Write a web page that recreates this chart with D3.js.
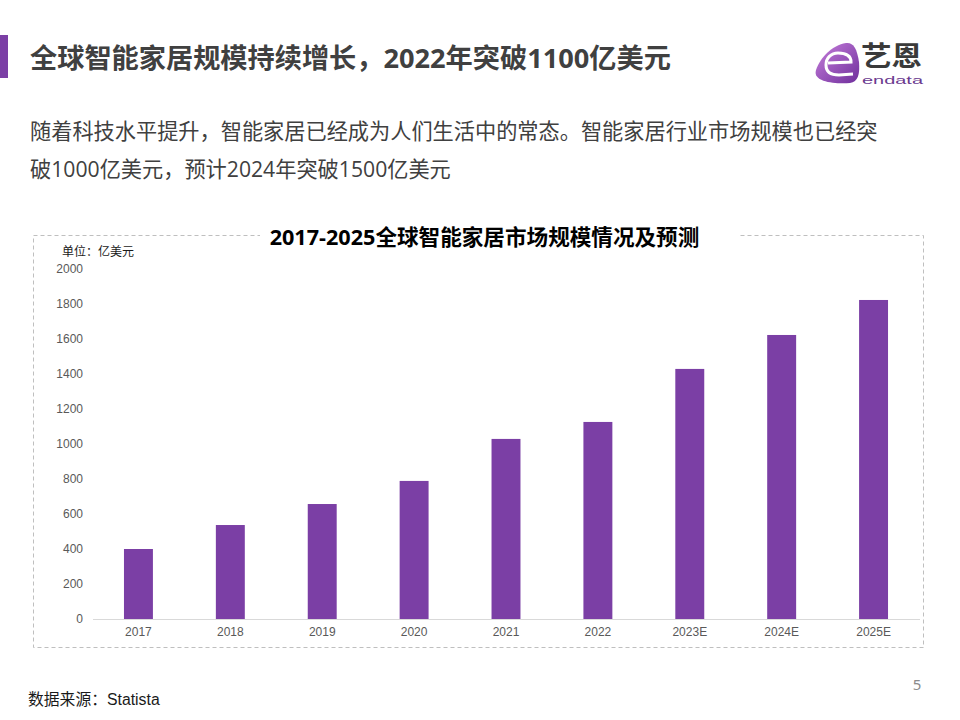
<!DOCTYPE html>
<html><head><meta charset="utf-8">
<script src="https://cdn.jsdelivr.net/npm/d3@7/dist/d3.min.js"></script>
<style>html,body{margin:0;padding:0;background:#fff}svg{display:block}</style>
</head><body><svg id="c" width="960" height="720"></svg>
<script>
const categories=["2017","2018","2019","2020","2021","2022","2023E","2024E","2025E"];
const values=[400,537,657,789,1029,1126,1429,1623,1823];
const yTicks=[0,200,400,600,800,1000,1200,1400,1600,1800,2000];
const headline="全球智能家居规模持续增长，2022年突破1100亿美元";
const bodyLines=["随着科技水平提升，智能家居已经成为人们生活中的常态。智能家居行业市场规模也已经突","破1000亿美元，预计2024年突破1500亿美元"];
const chartTitle="2017-2025全球智能家居市场规模情况及预测";
const unitLabel="单位：亿美元";
const sourceLabel="数据来源：Statista";
const pageNo="5";
const CJK='"Open Sans","Noto Sans CJK SC",sans-serif';
const LAT='"Liberation Sans","Noto Sans CJK SC",sans-serif';
const svg=d3.select("#c");
const text=(x,y,t,size,fill,opt={})=>svg.append("text").attr("x",x).attr("y",y).text(t)
  .attr("font-size",size).attr("fill",fill).attr("font-family",opt.family||CJK)
  .attr("font-weight",opt.weight||"normal").attr("text-anchor",opt.anchor||"start");

// header
svg.append("rect").attr("x",0).attr("y",35).attr("width",8).attr("height",43).attr("fill","#7b3fa5");
text(30,68,headline,27.2,"#404040",{weight:"bold"});
bodyLines.forEach((l,i)=>text(30,138.5+i*38,l,21.2,"#404040"));

// logo
const grad=svg.append("defs").append("linearGradient").attr("id","lg").attr("x1",0).attr("y1",0).attr("x2",1).attr("y2",1);
grad.append("stop").attr("offset",0).attr("stop-color","#c77fdc");
grad.append("stop").attr("offset",1).attr("stop-color","#6f2f9c");
const logo=svg.append("g");
logo.append("path").attr("d","M816,70 C820,58 832,45 846,43 C853,42 857,48 859,62 C860,74 858,82 850,83 C838,84 812,83 816,70Z").attr("fill","url(#lg)");
logo.append("path").attr("d","M828,63 L851,62 C851,56 846,53 838,53 C831,53 826,58 826,65 C826,72 831,75 839,75 L853,74")
  .attr("fill","none").attr("stroke","#fff").attr("stroke-width",3);
text(861,65.5,"艺恩",27,"#3a3a3a",{weight:"bold"}).attr("textLength",61).attr("lengthAdjust","spacingAndGlyphs");
text(862,83.5,"endata",11,"#6b3a8f",{family:LAT}).attr("textLength",61).attr("lengthAdjust","spacingAndGlyphs");

// frame
svg.append("rect").attr("x",33.5).attr("y",235.5).attr("width",890).attr("height",412)
  .attr("fill","none").attr("stroke","#bfbfbf").attr("stroke-dasharray","4 3");
svg.append("rect").attr("x",260).attr("y",225).attr("width",478).attr("height",22).attr("fill","#fff");
text(484.5,244.5,chartTitle,21.6,"#000",{weight:"bold",anchor:"middle"});
text(62,256,unitLabel,12,"#1a1a1a");

// chart
const x=d3.scaleBand().domain(categories).range([92.5,919.5]).paddingInner(0.685).paddingOuter(0.3425);
const y=d3.scaleLinear().domain([0,2000]).range([619,269]);
const gy=svg.append("g").attr("transform","translate(83,0)").call(d3.axisLeft(y).tickValues(yTicks).tickFormat(d3.format("d")).tickSize(0).tickPadding(0));
gy.select(".domain").remove();
gy.selectAll("text").attr("font-size",12).attr("fill","#595959").attr("font-family",LAT).attr("dy","0.32em");
svg.selectAll("rect.bar").data(values).join("rect").attr("class","bar")
  .attr("x",(d,i)=>x(categories[i])).attr("y",d=>y(d))
  .attr("width",x.bandwidth()).attr("height",d=>y(0)-y(d)).attr("fill","#7b3fa5");
const gx=svg.append("g").attr("transform","translate(0,619)").call(d3.axisBottom(x).tickSize(0).tickPadding(8));
gx.select(".domain").attr("stroke","#d9d9d9").attr("stroke-width",1);
gx.selectAll("text").attr("font-size",12).attr("fill","#595959").attr("font-family",LAT);

// footer
text(28,705,sourceLabel,15.8,"#1a1a1a",{family:LAT});
text(917,690,pageNo,15,"#8c8c8c",{anchor:"middle",family:'"Noto Sans",sans-serif'});
</script></body></html>
